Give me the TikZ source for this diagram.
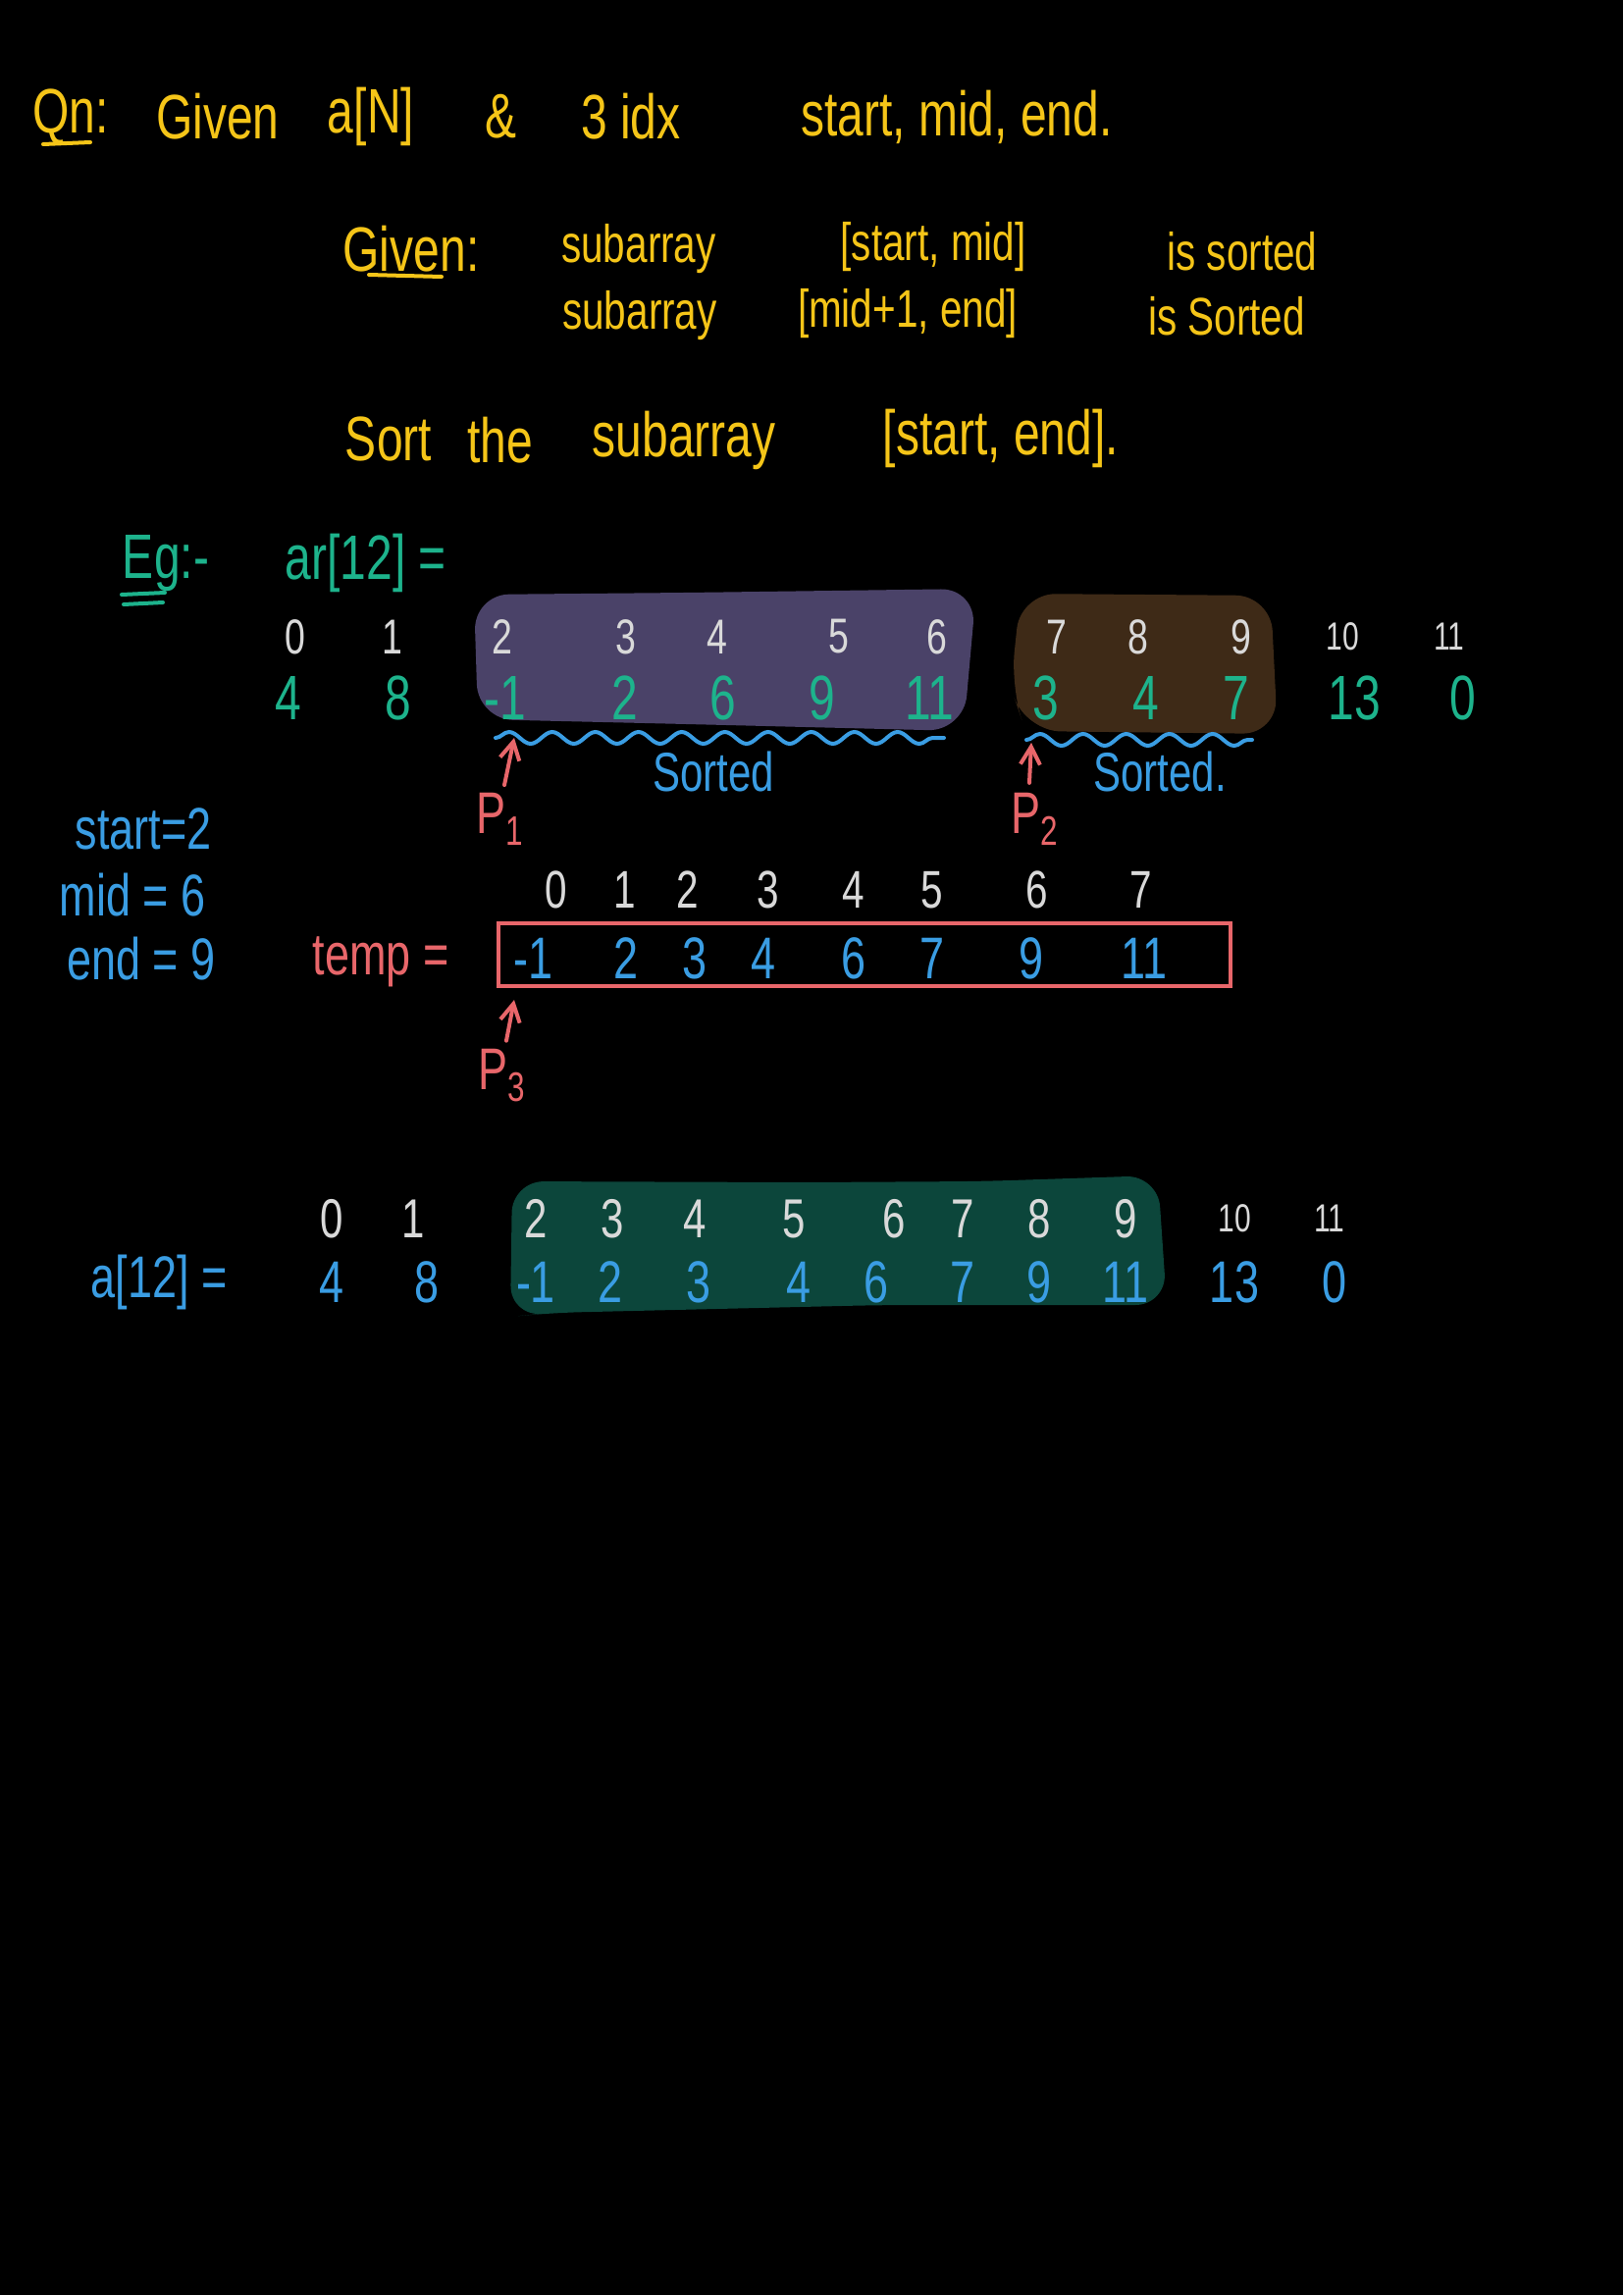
\documentclass[tikz,border=0pt]{standalone}
\usepackage{fontspec}
\setmainfont{Liberation Sans}[FakeStretch=0.75]
\usetikzlibrary{decorations.pathmorphing,arrows.meta}
\definecolor{hy}{HTML}{F5C518}
\definecolor{ht}{HTML}{1DB38C}
\definecolor{hb}{HTML}{3A9DE3}
\definecolor{hr}{HTML}{E8666A}
\definecolor{hw}{HTML}{D9D9D9}
\definecolor{pur}{HTML}{4A4268}
\definecolor{brn}{HTML}{3E2A17}
\definecolor{grn}{HTML}{0C463B}
\newcommand{\fs}[1]{\fontsize{#1}{#1}\selectfont}
\tikzset{
  txt/.style={inner sep=0pt},
  yel/.style={txt,text=hy,font=\fs{32}},
  yels/.style={txt,text=hy,font=\fs{27}},
  teal/.style={txt,text=ht,font=\fs{32}},
  idx/.style={txt,text=hw,font=\fs{25}},
  sidx/.style={txt,text=hw,font=\fs{20}},
  blu/.style={txt,text=hb,font=\fs{30}},
  red/.style={txt,text=hr,font=\fs{30}},
  pen/.style={line width=2pt,line cap=round},
  wave/.style={pen,hb,decorate,decoration={snake,amplitude=3pt,segment length=22pt}},
  ptr/.style={pen,hr,-{Straight Barb[length=9pt,width=10pt]}},
}
\begin{document}
\begin{tikzpicture}[x=0.5pt,y=-0.5pt]
\path[fill=black] (0,0) rectangle (1654,2339);
% title
\node[yel] (qn) at (72,119) {Qn:};
\node[yel] (given) at (222,119) {Given};
\node[yel] (an) at (378,119) {a[N]};
\node[yel] (amp) at (511,119) {\&};
\node[yel] (idx) at (643,119) {3 idx};
\node[yel] (sme) at (975,119) {start, mid, end.};
\draw[pen,hy] (44,147) -- (92,145);
% given
\node[yel] (gv) at (419,254) {Given:};
\draw[pen,hy] (376,280) -- (450,282);
\node[yels] (sa1) at (651,254) {subarray};
\node[yels] (r1) at (951,252) {[start, mid]};
\node[yels] (is1) at (1266,256) {is sorted};
\node[yels] (sa2) at (652,322) {subarray};
\node[yels] (r2) at (925,320) {[mid+1, end]};
\node[yels] (is2) at (1250,322) {is Sorted};
% sort the subarray
\node[yel] (s1) at (396,447) {Sort};
\node[yel] (s2) at (510,449) {the};
\node[yel] (s3) at (697,449) {subarray};
\node[yel] (s4) at (1020,447) {[start, end].};
% example
\node[teal] (eg) at (169,574) {Eg:-};
\draw[pen,ht] (124,606) -- (168,604);
\draw[pen,ht] (126,616) -- (166,614);
\node[teal] (ar) at (373,574) {ar[12] =};
% blobs
\fill[pur,rounded corners=18pt] (483,606) -- (700,604) -- (995,600) -- (982,745) -- (700,738) -- (487,733) -- cycle;
\fill[brn,rounded corners=18pt] (1040,605) -- (1295,607) -- (1302,748) -- (1045,745) -- (1030,700) -- cycle;
% index row
\foreach \t/\x [count=\i] in {0/301,1/400,2/512,3/638,4/731,5/855,6/955,7/1077,8/1160,9/1265}
  \node[idx] (ia\i) at (\x,649) {\t};
\node[sidx] (ia11) at (1368,649) {10};
\node[sidx] (ia12) at (1477,649) {11};
\foreach \t/\x [count=\i] in {4/294,8/406,-1/515,2/637,6/737,9/838,11/947,3/1066,4/1168,7/1260,13/1380,0/1491}
  \node[teal] (va\i) at (\x,711) {\t};
% waves
\draw[wave] (505,752) -- (962,752);
\draw[wave] (1046,754) -- (1276,754);
\node[blu,font=\fs{28}] (so1) at (727,786) {Sorted};
\node[blu,font=\fs{28}] (so2) at (1182,786) {Sorted.};
% pointers
\node[red] (p1) at (510,835) {P\textsubscript{1}};
\node[red] (p2) at (1055,835) {P\textsubscript{2}};
\coordinate (t1) at (524,752);
\coordinate (t2) at (1051,757);
\draw[ptr] (p1.north) ++(4,-8) coordinate (b1) (b1) -- (t1);
\draw[ptr] (p2.north) ++(-6,-10) coordinate (b2) (b2) -- (t2);
% variables
\node[blu] (vs) at (146,845) {start=2};
\node[blu] (vm) at (135,912) {mid = 6};
\node[blu] (ve) at (144,977) {end = 9};
% temp
\foreach \t/\x [count=\i] in {0/567,1/637,2/701,3/783,4/870,5/950,6/1057,7/1163}
  \node[idx,font=\fs{27}] (it\i) at (\x,907) {\t};
\node[red] (temp) at (388,980) {temp =};
\draw[line width=1.8pt,hr] (508,941) rectangle (1254,1005);
\foreach \t/\x [count=\i] in {-1/544,2/638,3/708,4/778,6/870,7/950,9/1051,11/1166}
  \node[blu] (vt\i) at (\x,977) {\t};
\node[red] (p3) at (512,1096) {P\textsubscript{3}};
\coordinate (t3) at (524,1019);
\draw[ptr] (p3.north) ++(4,-8) coordinate (b3) (b3) -- (t3);
% result
\fill[grn,rounded corners=16pt] (522,1204) -- (820,1205) -- (1000,1204) -- (1180,1198) -- (1189,1330) -- (900,1330) -- (560,1338) -- (520,1342) -- cycle;
\foreach \t/\x [count=\i] in {0/338,1/421,2/546,3/624,4/708,5/809,6/911,7/981,8/1059,9/1147}
  \node[idx,font=\fs{28}] (ib\i) at (\x,1242) {\t};
\node[sidx] (ib11) at (1258,1242) {10};
\node[sidx] (ib12) at (1355,1242) {11};
\node[blu] (a12) at (162,1307) {a[12] =};
\foreach \t/\x [count=\i] in {4/338,8/435,-1/546,2/622,3/712,4/814,6/893,7/981,9/1059,11/1147,13/1258,0/1360}
  \node[blu] (vb\i) at (\x,1307) {\t};
\end{tikzpicture}
\end{document}
